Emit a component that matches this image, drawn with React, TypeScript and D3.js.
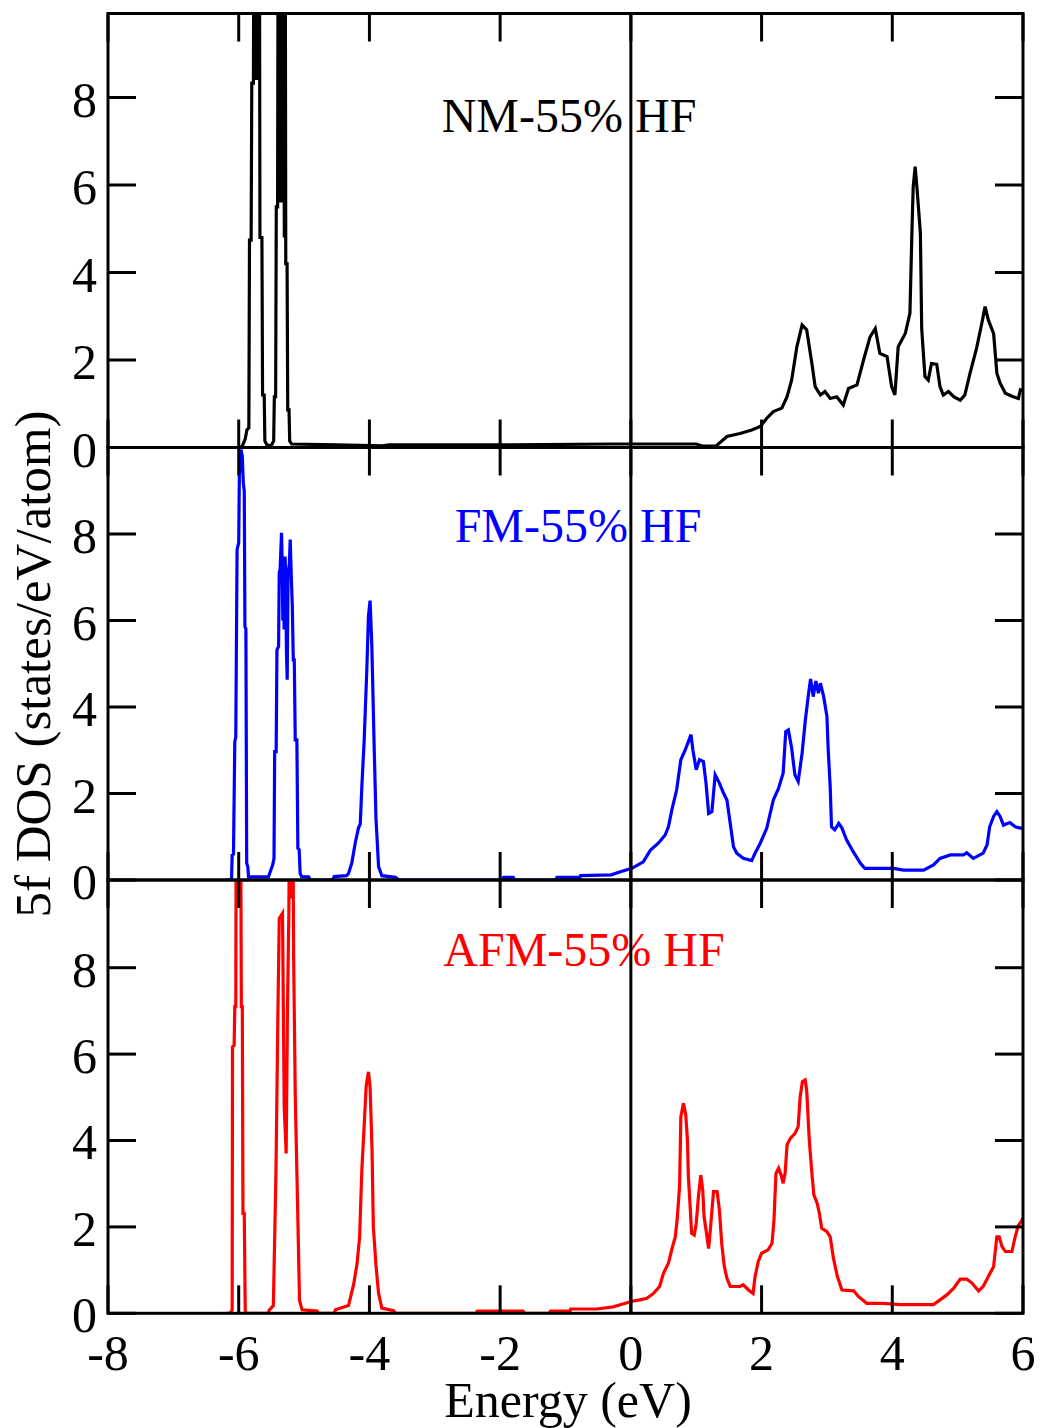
import React from "react";
import * as d3 from "d3";

// ---------- data (energy in eV, 5f DOS in states/eV/atom) ----------
const xTickValues = [-8, -6, -4, -2, 0, 2, 4, 6];
const yTickValues = [0, 2, 4, 6, 8];
const panelLabels = ["NM-55% HF", "FM-55% HF", "AFM-55% HF"];
const axisTitleX = "Energy (eV)";
const axisTitleY = "5f DOS (states/eV/atom)";

const nmDos: [number, number][] = [
  [-6.3, 0], [-5.97, 0.0], [-5.94, 0.05], [-5.9, 0.2], [-5.875, 0.4], [-5.845, 0.45],
  [-5.835, 4.74], [-5.81, 4.74], [-5.8, 8.33], [-5.775, 8.33], [-5.765, 14], [-5.752, 8.4],
  [-5.738, 14], [-5.725, 8.4], [-5.712, 14], [-5.698, 8.4], [-5.685, 14],
  [-5.675, 4.8], [-5.645, 4.8], [-5.635, 1.2], [-5.61, 1.2], [-5.6, 0.15], [-5.565, 0.05],
  [-5.5, 0.05], [-5.465, 0.15], [-5.455, 1.16], [-5.435, 1.16], [-5.425, 5.5], [-5.405, 5.5],
  [-5.395, 14], [-5.382, 5.6], [-5.368, 14], [-5.355, 5.6], [-5.342, 14], [-5.328, 5.6],
  [-5.315, 14], [-5.302, 4.8], [-5.29, 14], [-5.28, 4.2], [-5.26, 4.2], [-5.25, 0.86], [-5.23, 0.86],
  [-5.22, 0.15], [-5.19, 0.08], [-4.5, 0.06], [-3.8, 0.04], [-3.7, 0.06], [-2.0, 0.06],
  [-0.3, 0.08], [0.5, 0.08], [1.0, 0.08], [1.1, 0.03], [1.3, 0.03], [1.47, 0.25],
  [1.67, 0.32], [1.85, 0.4], [1.98, 0.48], [2.08, 0.67], [2.18, 0.82], [2.31, 0.9],
  [2.39, 1.16], [2.46, 1.54], [2.54, 2.3], [2.62, 2.8], [2.69, 2.69], [2.77, 1.92],
  [2.82, 1.39], [2.9, 1.2], [2.97, 1.28], [3.05, 1.12], [3.15, 1.16], [3.25, 0.97],
  [3.33, 1.35], [3.46, 1.43], [3.56, 2.0], [3.66, 2.53], [3.74, 2.72], [3.81, 2.15],
  [3.92, 2.08], [3.99, 1.39], [4.04, 1.2], [4.09, 2.3], [4.2, 2.61], [4.27, 3.07],
  [4.3, 4.9], [4.32, 5.96], [4.35, 6.42], [4.38, 5.89], [4.43, 4.9], [4.45, 2.72],
  [4.5, 1.62], [4.55, 1.54], [4.6, 1.92], [4.68, 1.9], [4.73, 1.39], [4.78, 1.2],
  [4.86, 1.28], [4.94, 1.16], [5.04, 1.08], [5.11, 1.2], [5.19, 1.7], [5.29, 2.27],
  [5.37, 2.84], [5.42, 3.22], [5.47, 2.91], [5.55, 2.61], [5.6, 1.7], [5.65, 1.47],
  [5.73, 1.24], [5.85, 1.16], [5.93, 1.12], [5.96, 1.32], [6.0, 1.3],
];

const fmDos: [number, number][] = [
  [-6.2, 0], [-6.11, 0], [-6.1, 0.58], [-6.08, 0.6], [-6.06, 3.2], [-6.045, 3.3],
  [-6.025, 7.64], [-6.0, 7.8], [-5.99, 9.4], [-5.975, 9.5], [-5.965, 9.95], [-5.945, 9.8],
  [-5.93, 9.18], [-5.915, 9.0], [-5.905, 5.86], [-5.89, 5.8], [-5.878, 0.39], [-5.86, 0.3],
  [-5.85, 0.07], [-5.545, 0.07], [-5.48, 0.35], [-5.46, 0.5], [-5.45, 2.97], [-5.427, 2.97],
  [-5.415, 5.32], [-5.39, 5.4], [-5.38, 7.1], [-5.366, 7.2], [-5.345, 8.03], [-5.335, 7.3],
  [-5.325, 6.0], [-5.315, 7.4], [-5.305, 5.79], [-5.29, 7.48], [-5.28, 7.0], [-5.27, 5.3],
  [-5.258, 4.63], [-5.245, 7.1], [-5.225, 7.3], [-5.212, 7.87], [-5.195, 7.0], [-5.18, 6.33],
  [-5.165, 5.09], [-5.15, 5.09], [-5.135, 3.24], [-5.11, 3.24], [-5.095, 0.73], [-5.075, 0.7],
  [-5.06, 0.15], [-5.034, 0.07], [-4.93, 0.07], [-4.9, 0], [-4.56, 0], [-4.54, 0.08],
  [-4.35, 0.1], [-4.32, 0.15], [-4.27, 0.39], [-4.218, 0.85], [-4.168, 1.2], [-4.14, 1.3],
  [-4.116, 2.16], [-4.08, 3.24], [-4.04, 4.86], [-4.015, 6.1], [-3.99, 6.46], [-3.963, 5.4],
  [-3.93, 3.24], [-3.9, 1.43], [-3.86, 0.31], [-3.81, 0.1], [-3.6, 0.06], [-3.55, 0],
  [-1.97, 0], [-1.95, 0.06], [-1.8, 0.06], [-1.78, 0], [-1.15, 0], [-1.13, 0.06],
  [-0.78, 0.06], [-0.77, 0.1], [-0.3, 0.12], [-0.16, 0.19], [0.015, 0.27], [0.19, 0.42],
  [0.3, 0.69], [0.42, 0.85], [0.525, 1.04], [0.575, 1.23], [0.627, 1.62], [0.7, 2.08],
  [0.765, 2.78], [0.83, 3.0], [0.88, 3.2], [0.92, 3.36], [0.95, 3.0], [1.0, 2.55],
  [1.05, 2.78], [1.11, 2.74], [1.15, 2.24], [1.19, 1.54], [1.24, 1.58], [1.29, 2.43],
  [1.355, 2.24], [1.417, 2.01], [1.47, 1.85], [1.52, 1.31], [1.57, 0.77], [1.62, 0.62],
  [1.72, 0.5], [1.85, 0.45], [1.9, 0.62], [1.98, 0.85], [2.08, 1.2], [2.18, 1.85],
  [2.26, 2.12], [2.33, 2.47], [2.37, 3.43], [2.41, 3.47], [2.46, 3.05], [2.51, 2.43],
  [2.56, 2.28], [2.62, 2.93], [2.67, 3.7], [2.72, 4.32], [2.75, 4.65], [2.79, 4.24],
  [2.83, 4.6], [2.87, 4.32], [2.9, 4.55], [2.95, 4.24], [3.0, 3.78], [3.02, 3.0],
  [3.05, 2.16], [3.07, 1.23], [3.12, 1.16], [3.18, 1.31], [3.23, 1.2], [3.3, 0.93],
  [3.4, 0.66], [3.51, 0.39], [3.58, 0.27], [3.76, 0.27], [4.02, 0.27], [4.17, 0.23],
  [4.48, 0.23], [4.63, 0.35], [4.73, 0.5], [4.89, 0.58], [5.09, 0.58], [5.14, 0.63],
  [5.24, 0.5], [5.39, 0.62], [5.45, 0.81], [5.49, 1.23], [5.55, 1.47], [5.6, 1.58],
  [5.65, 1.47], [5.7, 1.27], [5.8, 1.33], [5.88, 1.23], [5.96, 1.2], [6.0, 1.2],
];

const afmDos: [number, number][] = [
  [-6.2, 0], [-6.13, 0], [-6.1, 0.08], [-6.095, 6.17], [-6.07, 6.2], [-6.06, 7.1],
  [-6.045, 7.1], [-6.035, 14], [-5.975, 14], [-5.96, 7.1], [-5.945, 7.1], [-5.935, 2.31],
  [-5.915, 2.31], [-5.9, 0.05], [-5.88, 0], [-5.55, 0], [-5.53, 0.08], [-5.47, 0.18],
  [-5.43, 3.28], [-5.4, 6.98], [-5.38, 9.14], [-5.33, 9.26], [-5.304, 4.78], [-5.274, 3.7],
  [-5.254, 7.02], [-5.233, 9.26], [-5.21, 14], [-5.195, 9.6], [-5.18, 14], [-5.16, 8.29], [-5.135, 5.05],
  [-5.1, 2.55], [-5.07, 0.3], [-5.03, 0.08], [-4.8, 0.05], [-4.78, 0], [-4.54, 0],
  [-4.52, 0.08], [-4.32, 0.18], [-4.24, 0.68], [-4.19, 1.14], [-4.15, 1.77], [-4.116, 3.32],
  [-4.08, 4.36], [-4.05, 5.25], [-4.015, 5.59], [-3.99, 5.25], [-3.96, 3.78], [-3.94, 2.0],
  [-3.9, 1.12], [-3.86, 0.46], [-3.81, 0.12], [-3.63, 0.06], [-3.6, 0], [-2.37, 0],
  [-2.35, 0.05], [-1.65, 0.05], [-1.63, 0], [-1.25, 0], [-1.23, 0.05], [-0.93, 0.05],
  [-0.92, 0.1], [-0.52, 0.1], [-0.27, 0.15], [-0.16, 0.2], [0.015, 0.28], [0.14, 0.31],
  [0.245, 0.35], [0.346, 0.46], [0.44, 0.62], [0.5, 0.93], [0.575, 1.16], [0.63, 1.5],
  [0.68, 1.77], [0.71, 2.2], [0.745, 2.93], [0.765, 4.55], [0.805, 4.86], [0.84, 4.59],
  [0.866, 4.01], [0.88, 3.16], [0.907, 2.47], [0.93, 1.85], [0.97, 1.81], [1.0, 2.08],
  [1.034, 2.7], [1.07, 3.2], [1.1, 2.85], [1.12, 2.24], [1.15, 1.93], [1.19, 1.5],
  [1.22, 2.0], [1.265, 2.82], [1.32, 2.82], [1.355, 2.39], [1.39, 1.62], [1.43, 1.08],
  [1.47, 0.81], [1.52, 0.62], [1.67, 0.62], [1.72, 0.66], [1.8, 0.54], [1.87, 0.46],
  [1.9, 0.85], [1.95, 1.2], [2.0, 1.39], [2.1, 1.47], [2.16, 1.62], [2.19, 2.16],
  [2.22, 3.24], [2.26, 3.36], [2.3, 3.2], [2.33, 3.01], [2.36, 3.24], [2.39, 3.9],
  [2.44, 4.05], [2.51, 4.16], [2.56, 4.32], [2.59, 5.01], [2.625, 5.36], [2.667, 5.4],
  [2.69, 5.17], [2.73, 4.01], [2.77, 3.24], [2.8, 2.74], [2.85, 2.55], [2.885, 2.31],
  [2.92, 1.97], [3.0, 1.89], [3.05, 1.77], [3.1, 1.27], [3.16, 0.85], [3.23, 0.54],
  [3.41, 0.52], [3.48, 0.39], [3.61, 0.23], [3.86, 0.23], [4.12, 0.2], [4.63, 0.2],
  [4.73, 0.31], [4.83, 0.42], [4.94, 0.58], [5.04, 0.79], [5.14, 0.79], [5.22, 0.7],
  [5.32, 0.52], [5.39, 0.62], [5.47, 0.85], [5.55, 1.08], [5.6, 1.77], [5.635, 1.77],
  [5.68, 1.54], [5.73, 1.43], [5.83, 1.43], [5.88, 1.77], [5.93, 2.04], [5.97, 2.12],
  [6.0, 2.2],
];

// ---------- layout ----------
const W = 1043;
const H = 1428;
const LEFT = 108;
const RIGHT = 1023;
const FONT = "'Liberation Serif', 'Times New Roman', serif";
const TICK = 28;

const panels = [
  { top: 13.5, bottom: 447.5, yMax: 9.92, color: "#000000", data: nmDos, label: panelLabels[0], lx: 569, ly: 132 },
  { top: 447.5, bottom: 880, yMax: 10.0, color: "#0000ff", data: fmDos, label: panelLabels[1], lx: 578, ly: 542 },
  { top: 880, bottom: 1313.3, yMax: 10.03, color: "#ff0000", data: afmDos, label: panelLabels[2], lx: 584, ly: 966 },
];

export default function App() {
  const x = d3.scaleLinear().domain([-8, 6]).range([LEFT, RIGHT]);
  return (
    <svg width={W} height={H} style={{ position: "absolute", left: 0, top: 0, background: "#fff" }}>
      <defs>
        {panels.map((p, i) => (
          <clipPath id={`clip${i}`} key={i}>
            <rect x={LEFT} y={p.top} width={RIGHT - LEFT} height={p.bottom - p.top} />
          </clipPath>
        ))}
      </defs>
      <rect x={0} y={0} width={W} height={H} fill="#fff" />
      {panels.map((p, i) => {
        const y = d3.scaleLinear().domain([0, p.yMax]).range([p.bottom, p.top]);
        const line = d3
          .line<[number, number]>()
          .x((d) => x(d[0]))
          .y((d) => y(d[1]));
        return (
          <g key={i}>
            <text x={p.lx} y={p.ly} fill={p.color} fontFamily={FONT} fontSize={48} textAnchor="middle">
              {p.label}
            </text>
            <path d={line(p.data) || ""} fill="none" stroke={p.color} strokeWidth={3.2} strokeLinejoin="miter" clipPath={`url(#clip${i})`} />
            {/* frame */}
            <rect x={LEFT} y={p.top} width={RIGHT - LEFT} height={p.bottom - p.top} fill="none" stroke="#000" strokeWidth={3} />
            {/* x ticks, top and bottom, inward */}
            {xTickValues.map((t) => (
              <g key={`xt${t}`}>
                <line x1={x(t)} x2={x(t)} y1={p.bottom} y2={p.bottom - TICK} stroke="#000" strokeWidth={3} />
                <line x1={x(t)} x2={x(t)} y1={p.top} y2={p.top + TICK} stroke="#000" strokeWidth={3} />
              </g>
            ))}
            {/* y ticks, left and right, inward */}
            {yTickValues.map((t) => (
              <g key={`yt${t}`}>
                <line x1={LEFT} x2={LEFT + TICK} y1={y(t)} y2={y(t)} stroke="#000" strokeWidth={3} />
                <line x1={RIGHT} x2={RIGHT - TICK} y1={y(t)} y2={y(t)} stroke="#000" strokeWidth={3} />
                <text x={97} y={y(t) + 19} fontFamily={FONT} fontSize={50} textAnchor="end" fill="#000">
                  {t}
                </text>
              </g>
            ))}
          </g>
        );
      })}
      {/* zero-energy line across all panels */}
      <line x1={x(0)} x2={x(0)} y1={panels[0].top} y2={panels[2].bottom} stroke="#000" strokeWidth={3} />
      {/* x tick labels */}
      {xTickValues.map((t) => (
        <text key={`xl${t}`} x={x(t)} y={1370} fontFamily={FONT} fontSize={50} textAnchor="middle" fill="#000">
          {t}
        </text>
      ))}
      <text x={568} y={1417} fontFamily={FONT} fontSize={50} textAnchor="middle" fill="#000">
        {axisTitleX}
      </text>
      <text
        transform={`translate(50,664) rotate(-90)`}
        fontFamily={FONT}
        fontSize={51}
        textAnchor="middle"
        fill="#000"
      >
        {axisTitleY}
      </text>
    </svg>
  );
}
